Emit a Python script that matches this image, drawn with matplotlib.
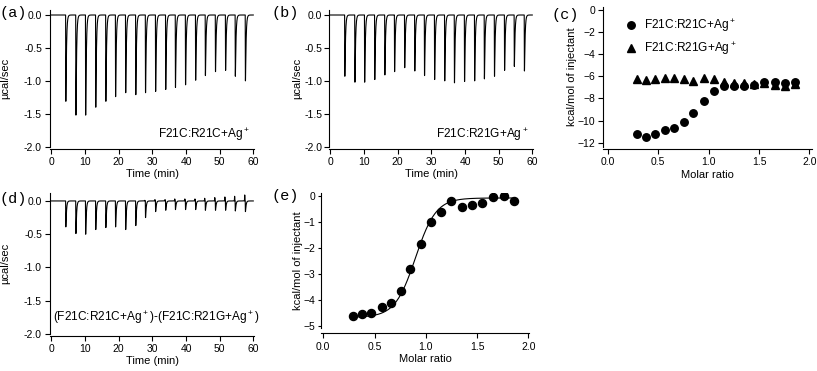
import numpy as np
import matplotlib.pyplot as plt

plt.rcParams['font.family'] = ['Liberation Sans', 'DejaVu Sans']
plt.rcParams['mathtext.fontset'] = 'custom'
plt.rcParams['mathtext.rm'] = 'Liberation Sans'

W, H = 817, 371

# injection times (min) and peak heights (ucal/sec)
inj_time = [4.2, 7.2, 10.1, 13.1, 16.1, 19.0, 22.0, 25.0, 27.9, 30.9,
            33.9, 36.8, 39.8, 42.8, 45.7, 48.7, 51.7, 54.6, 57.6]
peak_a = [-1.31, -1.52, -1.52, -1.40, -1.31, -1.24, -1.18, -1.21, -1.18, -1.16,
          -1.13, -1.10, -1.06, -0.99, -0.92, -0.86, -0.84, -0.93, -1.00]
peak_b = [-0.93, -1.02, -1.02, -0.98, -0.91, -0.86, -0.80, -0.85, -0.92, -0.98,
          -1.00, -1.03, -1.01, -1.00, -0.97, -0.93, -0.84, -0.78, -0.85]
peak_d = [-0.39, -0.49, -0.50, -0.43, -0.40, -0.39, -0.43, -0.37, -0.25, -0.16,
          -0.14, -0.13, -0.13, -0.13, -0.14, -0.14, -0.14, -0.15, -0.16]
up_d = [0.0, 0.0, 0.0, 0.0, 0.0, 0.0, 0.0, 0.0, 0.01, 0.02,
        0.02, 0.03, 0.03, 0.03, 0.04, 0.05, 0.06, 0.07, 0.09]

# integrated heats (kcal/mol of injectant)
molar_ratio = [0.29, 0.38, 0.47, 0.57, 0.66, 0.76, 0.85, 0.95, 1.05, 1.15,
               1.25, 1.35, 1.45, 1.55, 1.66, 1.76, 1.86]
heat_r21c = [-11.25, -11.49, -11.18, -10.85, -10.64, -10.13, -9.29, -8.20, -7.35, -6.90,
             -6.86, -6.88, -6.75, -6.55, -6.55, -6.60, -6.55]
heat_r21g = [-6.28, -6.32, -6.28, -6.12, -6.12, -6.28, -6.42, -6.12, -6.28, -6.50,
             -6.62, -6.56, -6.66, -6.60, -6.75, -6.90, -6.66]
heat_diff = [-4.62, -4.56, -4.51, -4.30, -4.14, -3.67, -2.81, -1.84, -1.01, -0.61,
             -0.18, -0.43, -0.35, -0.28, -0.05, 0.00, -0.19]
# sigmoid fit: bottom, top, midpoint, width
fit_par = (-4.68, -0.08, 0.90, 0.10)


def thermogram(times, peaks, ups=None):
    t = np.linspace(0, 60, 12001)
    y = np.zeros_like(t)
    for i, (ti, h) in enumerate(zip(times, peaks)):
        dt = t - ti
        m = dt > 0
        s = np.zeros_like(t)
        s[m] = (1 - np.exp(-dt[m] / 0.04)) * np.exp(-dt[m] / 0.18)
        y += h * s / s.max()
        if ups is not None and ups[i] > 0:
            du = t - (ti - 0.15)
            y += ups[i] * np.exp(-(du / 0.05) ** 2)
    return t, y


def add_ax(fig, l, t, r, b):
    return fig.add_axes([l / W, 1 - b / H, (r - l) / W, (b - t) / H])


def style(ax, offset, length=3.5, pad=2.5):
    for s in ['top', 'right']:
        ax.spines[s].set_visible(False)
    ax.spines['bottom'].set_position(('outward', offset))
    ax.tick_params(direction='out', length=3.5, width=0.8, labelsize=7.5, pad=2.5)
    ax.tick_params(axis='y', length=length, pad=pad)
    for s in ['left', 'bottom']:
        ax.spines[s].set_linewidth(0.8)


fig = plt.figure(figsize=(W / 100, H / 100), dpi=100)

# label, axes rect in px, peaks, up-ticks, note, top of y range, ylabel right edge px, y tick pad
panels = [
    ('(a)', (50.3, 10, 254.3, 146.7), peak_a, None, 'F21C:R21C+Ag$^+$', 0.076, 10, 2.5),
    ('(b)', (329.3, 10, 533.3, 146.7), peak_b, None, 'F21C:R21G+Ag$^+$', 0.076, 302, 1.5),
    ('(d)', (50.3, 193.3, 254.3, 334), peak_d, up_d,
     '(F21C:R21C+Ag$^+$)-(F21C:R21G+Ag$^+$)', 0.115, 10, 2.5),
]
for lab, rect, pk, up, txt, ytop, ylx, ypad in panels:
    ax = add_ax(fig, *rect)
    t, y = thermogram(inj_time, pk, up)
    ax.plot(t, y, color='black', lw=0.8)
    ax.set_xlim(-0.35, 60.3)
    ax.set_ylim(-2.0, ytop)
    ax.set_xticks([0, 10, 20, 30, 40, 50, 60])
    ax.set_yticks([0.0, -0.5, -1.0, -1.5, -2.0])
    ax.set_yticklabels(['0.0', '-0.5', '-1.0', '-1.5', '-2.0'])
    style(ax, 1.5, pad=ypad)
    ax.set_xlabel('Time (min)', fontsize=8, labelpad=1)
    ax.set_ylabel('\u00b5cal/sec', fontsize=8)
    ax.yaxis.set_label_coords((ylx - rect[0]) / (rect[2] - rect[0]), 0.5)
    if lab == '(d)':
        ax.text(0.015, 0.12, txt, transform=ax.transAxes, fontsize=8.6, ha='left', va='center')
    else:
        ax.text(0.98, 0.09, txt, transform=ax.transAxes, fontsize=8.6, ha='right', va='center')

# panel (c)
rc = (603.3, 7.3, 811.5, 146.7)
axc = add_ax(fig, *rc)
axc.plot(molar_ratio, heat_r21c, 'o', color='black', ms=5.4, label='F21C:R21C+Ag$^+$')
axc.plot(molar_ratio, heat_r21g, '^', color='black', ms=5.8, label='F21C:R21G+Ag$^+$')
axc.set_xlim(-0.044, 2.02)
axc.set_ylim(-12.36, 0.24)
axc.set_xticks([0.0, 0.5, 1.0, 1.5, 2.0])
axc.set_xticklabels(['0.0', '0.5', '1.0', '1.5', '2.0'])
axc.set_yticks([0, -2, -4, -6, -8, -10, -12])
style(axc, 1.5)
axc.set_xlabel('Molar ratio', fontsize=8, labelpad=2)
axc.set_ylabel('kcal/mol of injectant', fontsize=8)
axc.yaxis.set_label_coords((577 - rc[0]) / (rc[2] - rc[0]), 0.5)
axc.legend(loc='upper left', bbox_to_anchor=(0.08, 0.96), frameon=False, fontsize=8.6,
           handletextpad=0.6, labelspacing=0.5, borderaxespad=0, handlelength=1.0)

# panel (e)
re_ = (320.7, 193.3, 529.3, 327.7)
axe = add_ax(fig, *re_)
fx = np.linspace(min(molar_ratio), max(molar_ratio), 300)
bot, top, x0, w = fit_par
axe.plot(fx, bot + (top - bot) / (1 + np.exp(-(fx - x0) / w)), color='black', lw=0.8)
axe.plot(molar_ratio, heat_diff, 'o', color='black', ms=5.8)
axe.set_xlim(-0.025, 2.01)
axe.set_ylim(-5.08, 0.1)
axe.set_xticks([0.0, 0.5, 1.0, 1.5, 2.0])
axe.set_xticklabels(['0.0', '0.5', '1.0', '1.5', '2.0'])
axe.set_yticks([0, -1, -2, -3, -4, -5])
style(axe, 4, length=2.5, pad=1.5)
axe.set_xlabel('Molar ratio', fontsize=8, labelpad=2)
axe.set_ylabel('kcal/mol of injectant', fontsize=8)
axe.yaxis.set_label_coords((303 - re_[0]) / (re_[2] - re_[0]), 0.5)

# panel letters
for lab, x, y in [('(a)', 0, 13), ('(b)', 272, 13), ('(c)', 551, 15),
                  ('(d)', 0, 199), ('(e)', 272, 196)]:
    fig.text(x / W, 1 - y / H, lab, fontsize=11, family='Liberation Mono',
             ha='left', va='center')

fig.savefig('out.png', dpi=100)
